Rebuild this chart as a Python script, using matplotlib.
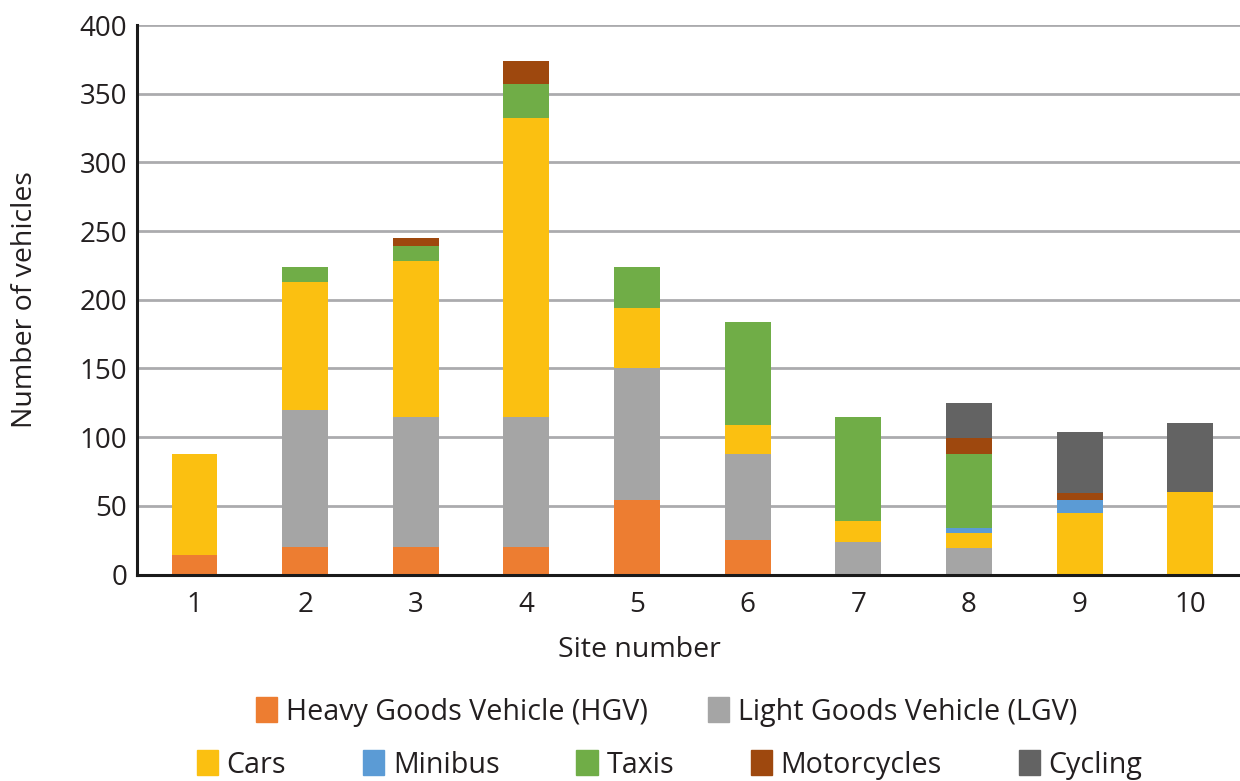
import numpy as np
import matplotlib
matplotlib.use("Agg")
import matplotlib.pyplot as plt
from matplotlib.patches import Patch

plt.rcParams['font.family'] = ['Open Sans', 'DejaVu Sans']

sites = np.arange(1, 11)
site_labels = [str(s) for s in sites]

# vehicle counts per site
hgv         = [14, 20, 20, 20, 54, 25, 0, 0, 0, 0]
lgv         = [0, 100, 95, 95, 96, 63, 24, 19, 0, 0]
cars        = [74, 93, 113, 217, 44, 21, 15, 11, 45, 60]
minibus     = [0, 0, 0, 0, 0, 0, 0, 4, 9, 0]
taxis       = [0, 11, 11, 25, 30, 75, 76, 54, 0, 0]
motorcycles = [0, 0, 6, 17, 0, 0, 0, 11, 5, 0]
cycling     = [0, 0, 0, 0, 0, 0, 0, 26, 45, 50]

series = [
    ("Heavy Goods Vehicle (HGV)", hgv, '#ED7D31'),
    ("Light Goods Vehicle (LGV)", lgv, '#A5A5A5'),
    ("Cars", cars, '#FBC011'),
    ("Minibus", minibus, '#5B9BD5'),
    ("Taxis", taxis, '#70AD47'),
    ("Motorcycles", motorcycles, '#9E480E'),
    ("Cycling", cycling, '#636363'),
]

txt = '#231f20'
fs = 20

fig = plt.figure(figsize=(12.4, 7.81), dpi=100)
ax = fig.add_axes([137 / 1240, 1 - 574.5 / 781, 1 - 137 / 1240, 549.5 / 781])

bottom = np.zeros(len(sites))
for name, vals, col in series:
    ax.bar(sites, vals, width=0.415, bottom=bottom, color=col, zorder=3)
    bottom += np.array(vals)

ax.set_xlim(0.48, 10.45)
ax.set_ylim(0, 400)
ax.set_yticks(range(0, 401, 50))
ax.set_xticks(sites)
ax.set_xticklabels(site_labels)
ax.yaxis.grid(True, color='#ababae', linewidth=2, zorder=0)
ax.set_axisbelow(True)

for s in ['top', 'right']:
    ax.spines[s].set_visible(False)
for s in ['left', 'bottom']:
    ax.spines[s].set_linewidth(2.2)
    ax.spines[s].set_color('#1a1a1a')
    ax.spines[s].set_zorder(4)

ax.tick_params(axis='both', length=0, labelsize=fs, labelcolor=txt)
ax.tick_params(axis='x', pad=12)
ax.tick_params(axis='y', pad=7)

# labels placed in figure coords (x label sits left of the axes centre)
fig.text(25 / 1240, 1 - 300 / 781, "Number of vehicles", rotation=90,
         ha='center', va='center', fontsize=20.5, color=txt)
fig.text(639 / 1240, 1 - 650 / 781, "Site number",
         ha='center', va='center', fontsize=20.5, color=txt)

handles = [Patch(color=col, label=name) for name, vals, col in series]

leg_kw = dict(loc='center', frameon=False, fontsize=20.6, handlelength=0.75,
              handleheight=0.95, handletextpad=0.3, labelcolor=txt,
              borderaxespad=0, borderpad=0)
leg1 = fig.legend(handles=handles[:2], ncol=2, columnspacing=2.1,
                  bbox_to_anchor=(0.5375, 1 - 712 / 781), **leg_kw)
leg2 = fig.legend(handles=handles[2:], ncol=5, columnspacing=2.68,
                  bbox_to_anchor=(0.540, 1 - 765 / 781), **leg_kw)

fig.savefig("out.png", dpi=100)
